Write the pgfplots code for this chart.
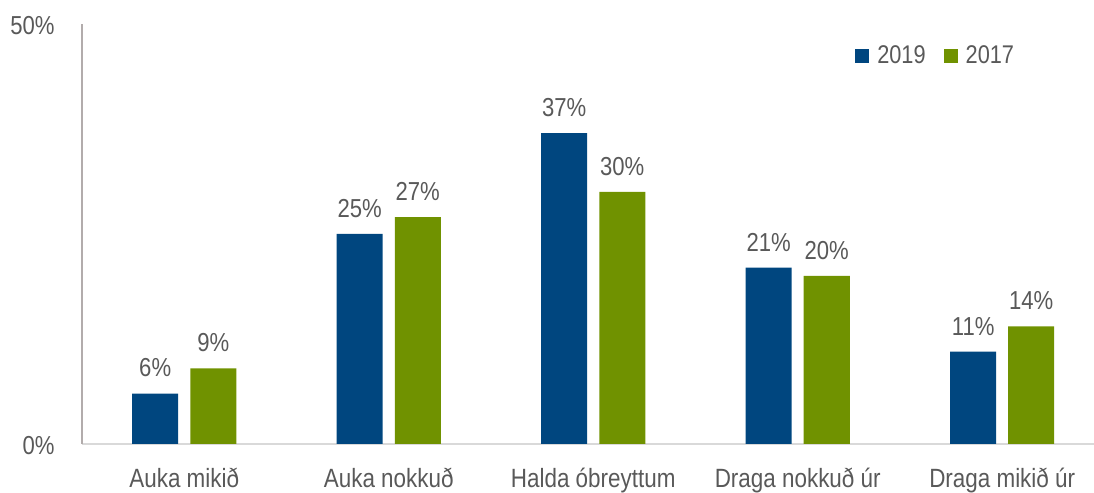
\documentclass[border=0pt]{standalone}
\usepackage{fontspec}
\setmainfont{Liberation Sans}[FakeStretch=0.85]
\usepackage{pgfplots}
\pgfplotsset{compat=1.18}
\definecolor{blue19}{RGB}{0,70,127}
\definecolor{green17}{RGB}{112,146,0}
\definecolor{txt}{RGB}{89,89,89}
\definecolor{yaxis}{RGB}{178,172,172}
\definecolor{xaxis}{RGB}{217,217,217}
\begin{document}
\begin{tikzpicture}
\path[use as bounding box] (-41pt,-24.5pt) rectangle (506pt,222pt);
\begin{axis}[
  at={(0,0)}, anchor=south west,
  scale only axis, width=505.8pt, height=210pt,
  xmin=-0.5, xmax=4.447, ymin=0, ymax=50,
  ybar, bar width=0.225,
  axis x line=bottom, axis y line=left,
  axis line style={-},
  x axis line style={draw=xaxis, line width=1pt},
  y axis line style={draw=yaxis, line width=1pt},
  xtick={0,1,2,3,4},
  xticklabels={Auka mikið, Auka nokkuð, Halda óbreyttum, Draga nokkuð úr, Draga mikið úr},
  ytick={0,50}, yticklabels={0\%,50\%},
  major tick length=0pt,
  tick label style={text=txt},
  xticklabel style={font=\fontsize{13.2}{15}\selectfont, inner sep=0pt, anchor=north, yshift=-12pt},
  yticklabel style={font=\fontsize{13}{15}\selectfont, inner sep=0pt, anchor=east, xshift=-13.5pt, yshift=-1pt},
  clip=false,
  legend columns=2,
  legend style={draw=none, fill=none, at={(axis description cs:0.764,0.924)}, anchor=west,
    font=\fontsize{12.8}{15}\selectfont, text=txt, inner sep=0pt,
    nodes={inner sep=0pt},
    /tikz/every odd column/.style={column sep=4pt},
    /tikz/every even column/.style={column sep=9pt}},
  legend image code/.code={\fill[#1] (0pt,-3.5pt) rectangle (7pt,3.5pt);},
  nodes near coords={\pgfmathprintnumber[assume math mode=true]{\pgfplotspointmeta}\%},
  every node near coord/.append style={font=\fontsize{13}{15}\selectfont, text=txt, inner sep=0pt, anchor=south, yshift=8pt},
]
\addplot[bar shift=-0.142, fill=blue19, draw=none] coordinates {(0,6) (1,25) (2,37) (3,21) (4,11)};
\addlegendentry{2019}
\addplot[bar shift=0.142, fill=green17, draw=none] coordinates {(0,9) (1,27) (2,30) (3,20) (4,14)};
\addlegendentry{2017}
\end{axis}
\end{tikzpicture}
\end{document}
